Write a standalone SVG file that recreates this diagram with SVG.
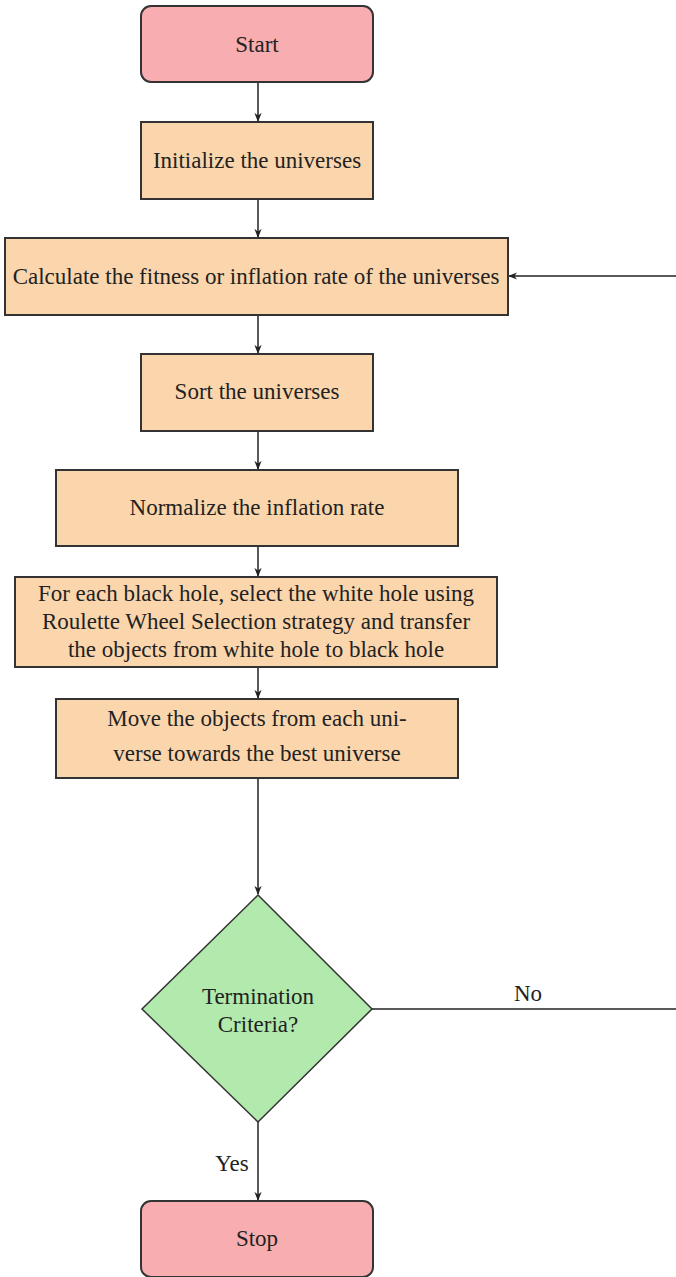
<svg xmlns="http://www.w3.org/2000/svg" width="676" height="1277" viewBox="0 0 676 1277">
<style>
.term{fill:#f8adb0;stroke:#333;stroke-width:2}
.proc{fill:#fbd6ad;stroke:#333;stroke-width:2}
.dec{fill:#b2eaae;stroke:#333;stroke-width:1.5}
text{font-family:'Liberation Serif','Times New Roman','DejaVu Serif',serif;font-size:23px;fill:#222;text-anchor:middle}
.c{fill:none;stroke:#222;stroke-width:1.5}
</style>
<defs>
<marker id="ah" viewBox="0 0 10 10" refX="9" refY="5" markerWidth="9" markerHeight="9" orient="auto" markerUnits="userSpaceOnUse">
<path d="M0,1 L10,5 L0,9 L3,5 Z" fill="#222"/>
</marker>
</defs>
<rect width="676" height="1277" fill="#fff"/>
<g id="connectors">
<line class="c" x1="258" y1="82" x2="258" y2="121" marker-end="url(#ah)"/>
<line class="c" x1="258" y1="199" x2="258" y2="237" marker-end="url(#ah)"/>
<line class="c" x1="258" y1="315" x2="258" y2="353" marker-end="url(#ah)"/>
<line class="c" x1="258" y1="431" x2="258" y2="469" marker-end="url(#ah)"/>
<line class="c" x1="258" y1="546" x2="258" y2="576" marker-end="url(#ah)"/>
<line class="c" x1="258" y1="667" x2="258" y2="698" marker-end="url(#ah)"/>
<line class="c" x1="258" y1="778" x2="258" y2="894" marker-end="url(#ah)"/>
<line class="c" x1="258" y1="1122" x2="258" y2="1200" marker-end="url(#ah)"/>
<line class="c" x1="372" y1="1009" x2="676" y2="1009"/>
<line class="c" x1="676" y1="276" x2="509" y2="276" marker-end="url(#ah)"/>
<text x="528" y="1001">No</text>
<text x="232" y="1171">Yes</text>
</g>
<g id="start">
<rect class="term" x="141" y="6" width="232" height="76" rx="10"/>
<text x="257" y="52">Start</text>
</g>
<g id="init">
<rect class="proc" x="141" y="122" width="232" height="77"/>
<text x="257" y="168">Initialize the universes</text>
</g>
<g id="calc">
<rect class="proc" x="5" y="238" width="503" height="77"/>
<text x="256" y="284">Calculate the fitness or inflation rate of the universes</text>
</g>
<g id="sort">
<rect class="proc" x="141" y="354" width="232" height="77"/>
<text x="257" y="399">Sort the universes</text>
</g>
<g id="norm">
<rect class="proc" x="56" y="470" width="402" height="76"/>
<text x="257" y="515">Normalize the inflation rate</text>
</g>
<g id="foreach">
<rect class="proc" x="15" y="577" width="482" height="90"/>
<text x="256" y="601">For each black hole, select the white hole using</text>
<text x="256" y="629">Roulette Wheel Selection strategy and transfer</text>
<text x="256" y="657">the objects from white hole to black hole</text>
</g>
<g id="move">
<rect class="proc" x="56" y="699" width="402" height="79"/>
<text x="257" y="726">Move the objects from each uni-</text>
<text x="257" y="761">verse towards the best universe</text>
</g>
<g id="term">
<polygon class="dec" points="258,895 372,1009 258,1122 142,1009"/>
<text x="258" y="1004">Termination</text>
<text x="258" y="1032">Criteria?</text>
</g>
<g id="stop">
<rect class="term" x="141" y="1201" width="232" height="76" rx="10"/>
<text x="257" y="1246">Stop</text>
</g>
</svg>
